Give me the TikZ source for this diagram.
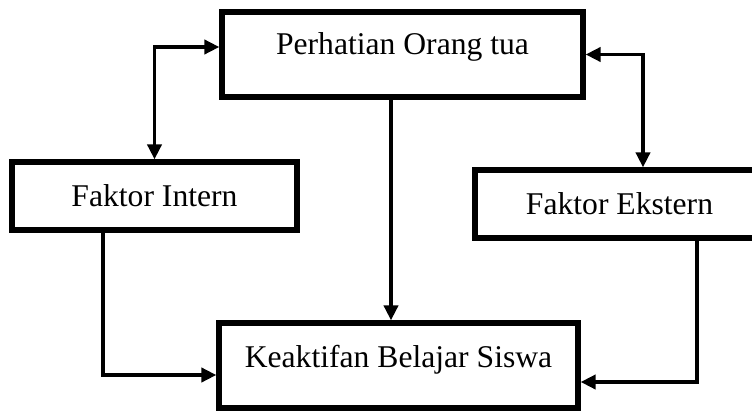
\documentclass[tikz,border=0pt]{standalone}
\usepackage{fontspec}
\setmainfont{Liberation Serif}
\usepackage{tikz}
\usetikzlibrary{
	arrows.meta,
	positioning,
	calc
}
\tikzset{
	kotak/.style={
		draw=black,
		line width=3pt,
		align=center,
		inner sep=0pt,
		font=\fontsize{18}{20}\selectfont
	},
	panah/.style={
		-{Triangle[length=8.5pt,width=8pt]},
		line width=2pt,
		black
	},
	panahDua/.style={
		{Triangle[length=8.5pt,width=8pt]}-{Triangle[length=8.5pt,width=8pt]},
		line width=2pt,
		black
	}
}

\begin{document}
\begin{tikzpicture}
		\useasboundingbox (0,0) rectangle (15.04,8.22);
		% kotak-kotak
		\node[kotak, anchor=base, minimum width=7.22cm, text height=0.86cm, text depth=0.84cm] (perhatian) at (8.05,7.12) {Perhatian Orang tua};
		\node[kotak, minimum width=5.70cm, minimum height=1.36cm] (intern) at (3.09,4.30) {Faktor Intern};
		\node[kotak, minimum width=5.78cm, minimum height=1.36cm] (ekstern) at (12.39,4.14) {Faktor Ekstern};
		\node[kotak, anchor=base, minimum width=7.18cm, text height=0.88cm, text depth=0.82cm] (keaktifan) at (7.97,0.88) {Keaktifan Belajar Siswa};
		% titik bantu
		\coordinate (tengah) at ([xshift=-0.23cm]perhatian.south);
		\coordinate (kiri) at ([xshift=-1.03cm]intern.south);
		\coordinate (kanan) at ([xshift=1.55cm]ekstern.south);
		% panah
		\draw[panahDua] (intern.north) |- ([yshift=0.15cm]perhatian.west);
		\draw[panahDua] (perhatian.east) -| ([xshift=0.47cm]ekstern.north);
		\draw[panah] (tengah) -- (tengah |- keaktifan.north);
		\draw[panah] (kiri) |- ([yshift=-0.19cm]keaktifan.west);
		\draw[panah] (kanan) |- ([yshift=-0.33cm]keaktifan.east);
	\end{tikzpicture}
\end{document}
